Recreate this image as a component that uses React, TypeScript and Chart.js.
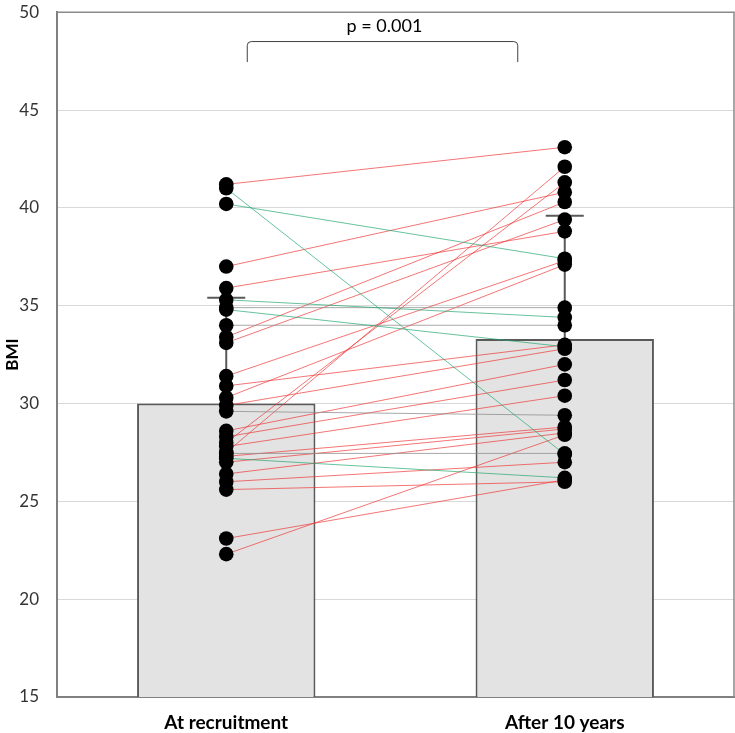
import React, { useEffect, useRef } from 'react';
import { Chart, registerables } from 'chart.js';

Chart.register(...registerables);

const categories = ['At recruitment', 'After 10 years'];
const meanBMI = [30.0, 33.3];
const upperSD = [35.4, 39.6];
const yTicks = [15, 20, 25, 30, 35, 40, 45, 50];
const pValueLabel = 'p = 0.001';
const yAxisTitle = 'BMI';

const bmiAtRecruitment = [
  41.2, 41.0, 40.2, 37.0, 35.9, 35.3, 34.9, 34.8, 34.0, 33.4,
  33.1, 31.4, 30.9, 30.3, 29.9, 29.6, 28.6, 28.3, 28.0, 27.8,
  27.5, 27.45, 27.3, 27.2, 27.0, 26.4, 26.0, 25.6, 23.1, 22.3,
];
const bmiAfter10Years = [
  43.1, 27.4, 37.4, 40.8, 38.8, 34.4, 34.9, 32.9, 34.0, 40.3,
  39.4, 37.3, 33.0, 37.1, 32.8, 29.4, 32.0, 31.2, 41.3, 30.4,
  42.1, 27.45, 28.8, 26.2, 28.7, 28.5, 27.0, 26.0, 26.1, 28.4,
];

const FONT = 'Lato, "Open Sans", sans-serif';

export default function App() {
  const ref = useRef<HTMLCanvasElement>(null);

  useEffect(() => {
    document.body.style.margin = '0';
    const canvas = ref.current;
    if (!canvas) return;

    const pairDatasets: any[] = bmiAtRecruitment.map((b, i) => {
      const a = bmiAfter10Years[i];
      const d = a - b;
      const color =
        d > 0.3 ? 'rgba(238,50,50,0.85)' : d < -0.3 ? 'rgba(30,165,110,0.85)' : 'rgba(140,140,140,0.95)';
      return {
        type: 'line',
        data: [b, a],
        borderColor: color,
        borderWidth: 0.8,
        pointRadius: 0,
        fill: false,
        order: 1,
      };
    });

    const dotDataset = (vals: number[], cat: string): any => ({
      type: 'line',
      data: vals.map((v) => ({ x: cat, y: v })),
      showLine: false,
      pointRadius: 7.3,
      pointBackgroundColor: '#000',
      pointBorderColor: '#000',
      pointBorderWidth: 0,
      order: 0,
    });

    const errorBarPlugin = {
      id: 'errorBars',
      afterDatasetDraw(chart: any, args: any) {
        if (args.meta.type !== 'bar') return;
        const ctx = chart.ctx;
        const y = chart.scales.y;
        ctx.save();
        ctx.strokeStyle = '#595959';
        ctx.lineWidth = 2;
        args.meta.data.forEach((el: any, i: number) => {
          const x = el.x;
          const y0 = y.getPixelForValue(meanBMI[i]);
          const y1 = y.getPixelForValue(upperSD[i]);
          ctx.beginPath();
          ctx.moveTo(x, y0);
          ctx.lineTo(x, y1);
          ctx.moveTo(x - 19, y1);
          ctx.lineTo(x + 19, y1);
          ctx.stroke();
        });
        ctx.restore();
      },
    };

    const framePlugin = {
      id: 'frame',
      afterDraw(chart: any) {
        const { ctx, chartArea } = chart;
        const ys = chart.scales.y;
        const xs = chart.scales.x;
        ctx.save();
        ctx.strokeStyle = '#8a8a8a';
        ctx.lineWidth = 1.5;
        ctx.beginPath();
        ctx.moveTo(chartArea.left, chartArea.top);
        ctx.lineTo(chartArea.right, chartArea.top);
        ctx.lineTo(chartArea.right, chartArea.bottom);
        ctx.stroke();

        // significance bracket
        const x1 = xs.getPixelForValue(0) + 21;
        const x2 = xs.getPixelForValue(1) - 47;
        const yTop = ys.getPixelForValue(48.5);
        const yBot = ys.getPixelForValue(47.45);
        const r = 4;
        ctx.strokeStyle = '#404040';
        ctx.lineWidth = 1;
        ctx.beginPath();
        ctx.moveTo(x1, yBot);
        ctx.lineTo(x1, yTop + r);
        ctx.quadraticCurveTo(x1, yTop, x1 + r, yTop);
        ctx.lineTo(x2 - r, yTop);
        ctx.quadraticCurveTo(x2, yTop, x2, yTop + r);
        ctx.lineTo(x2, yBot);
        ctx.stroke();

        ctx.fillStyle = '#000';
        ctx.font = `18px ${FONT}`;
        ctx.textAlign = 'center';
        ctx.textBaseline = 'middle';
        ctx.fillText(pValueLabel, (x1 + x2) / 2 + 2, ys.getPixelForValue(49.3));
        ctx.restore();
      },
    };

    const chart = new Chart(canvas, {
      type: 'bar',
      data: {
        labels: categories,
        datasets: [
          {
            type: 'bar',
            data: meanBMI,
            backgroundColor: '#e3e3e3',
            borderColor: '#595959',
            borderWidth: 2,
            barPercentage: 1,
            categoryPercentage: 0.527,
            order: 3,
          } as any,
          ...pairDatasets,
          dotDataset(bmiAtRecruitment, categories[0]),
          dotDataset(bmiAfter10Years, categories[1]),
        ],
      },
      options: {
        animation: false,
        responsive: false,
        devicePixelRatio: 1,
        layout: { autoPadding: false, padding: { top: 0, right: 1, left: 0, bottom: 0 } },
        plugins: {
          legend: { display: false },
          tooltip: { enabled: false },
        },
        scales: {
          x: {
            type: 'category',
            offset: true,
            grid: { display: false, drawTicks: false },
            border: { display: true, color: '#808080', width: 2 },
            ticks: {
              font: { family: FONT, size: 19, weight: 'bold' },
              color: '#000',
              padding: 14,
            },
            afterFit: (s: any) => {
              s.height = 36;
              s.paddingLeft = 0;
              s.paddingRight = 0;
            },
          },
          y: {
            min: 15,
            max: 50,
            afterBuildTicks: (s: any) => {
              s.ticks = yTicks.map((v) => ({ value: v }));
            },
            ticks: {
              font: { family: FONT, size: 17 },
              color: '#333333',
              padding: 2,
            },
            grid: {
              color: '#d9d9d9',
              drawTicks: true,
              tickLength: 16,
              tickColor: 'rgba(0,0,0,0)',
              lineWidth: 1,
            },
            border: { color: '#808080', width: 2 },
            title: {
              display: true,
              text: yAxisTitle,
              font: { family: FONT, size: 17, weight: 'bold' },
              color: '#000',
              padding: { top: 2, bottom: 0 },
            },
            afterFit: (s: any) => {
              s.width = 57;
            },
          },
        },
      } as any,
      plugins: [errorBarPlugin, framePlugin],
    });

    return () => chart.destroy();
  }, []);

  return (
    <div style={{ width: 735, height: 733 }}>
      <canvas ref={ref} width={735} height={733} />
    </div>
  );
}
